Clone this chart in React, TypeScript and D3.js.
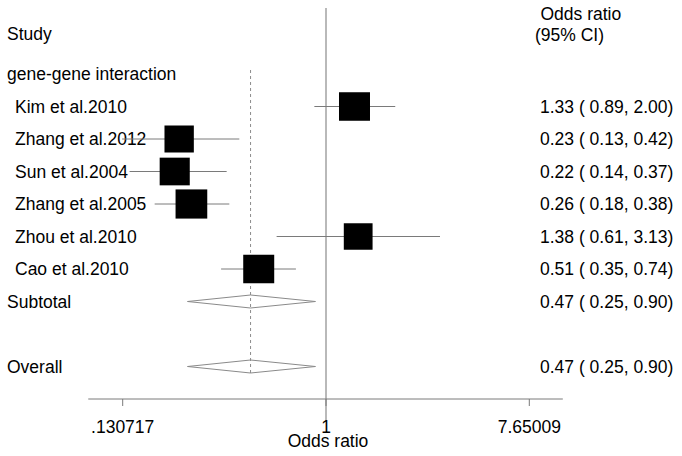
import React from "react";
import * as d3 from "d3";

const studies = ["Kim et al.2010", "Zhang et al.2012", "Sun et al.2004", "Zhang et al.2005", "Zhou et al.2010", "Cao et al.2010"];
const orValues = [1.33, 0.23, 0.22, 0.26, 1.38, 0.51];
const lowerCI = [0.89, 0.13, 0.14, 0.18, 0.61, 0.35];
const upperCI = [2.0, 0.42, 0.37, 0.38, 3.13, 0.74];
const weights = [17.4, 15.6, 16.4, 18.2, 15.0, 17.4];
const ciLabels = ["1.33 ( 0.89, 2.00)", "0.23 ( 0.13, 0.42)", "0.22 ( 0.14, 0.37)", "0.26 ( 0.18, 0.38)", "1.38 ( 0.61, 3.13)", "0.51 ( 0.35, 0.74)"];

const groupLabel = "gene-gene interaction";
const summaryLabels = ["Subtotal", "Overall"];
const summaryOR = [0.47, 0.47];
const summaryLower = [0.25, 0.25];
const summaryUpper = [0.9, 0.9];
const summaryText = ["0.47 ( 0.25, 0.90)", "0.47 ( 0.25, 0.90)"];
const summaryRows = [7, 9];

const tickValues = [0.130717, 1, 7.65009];
const tickLabels = [".130717", "1", "7.65009"];
const axisExtent = [0.0926, 10.7];

const FONT = "'Liberation Sans', Arial, Helvetica, sans-serif";
const FS = 17.5;

export default function App() {
  const W = 682, H = 456;
  const x = d3.scaleLog().domain([0.130717, 7.65009]).range([122.7, 529.3]);
  const y = d3.scaleLinear().domain([0, 9]).range([74, 366.5]);
  const size = d3.scaleSqrt().domain([0, 18.2]).range([0, 31.7]);
  const axisY = 399;
  const overall = summaryOR[1];

  return (
    <svg width={W} height={H} style={{ position: "absolute", left: 0, top: 0, background: "#fff" }} fontFamily={FONT} fontSize={FS}>
      <rect x={0} y={0} width={W} height={H} fill="#fff" />
      {/* headers */}
      <text x={7} y={y(-1.23)} dy="0.35em" fill="#000">Study</text>
      <text x={540.5} y={14} dy="0.35em" fill="#000">Odds ratio</text>
      <text x={535} y={35} dy="0.35em" fill="#000">(95% CI)</text>
      <text x={7} y={y(0)} dy="0.35em" fill="#000">{groupLabel}</text>

      {/* reference line at 1 */}
      <line x1={x(1)} x2={x(1)} y1={8} y2={421} stroke="#a8a8a8" strokeWidth={1.6} />
      {/* overall dashed line */}
      <line x1={x(overall)} x2={x(overall)} y1={70} y2={373} stroke="#8c8c8c" strokeWidth={1} strokeDasharray="3 3" />

      {studies.map((s, i) => {
        const cy = y(i + 1);
        const w = size(weights[i]);
        const h = w * 0.92;
        return (
          <g key={s}>
            <text x={15} y={cy} dy="0.35em" fill="#000">{s}</text>
            <line x1={x(lowerCI[i])} x2={x(upperCI[i])} y1={cy} y2={cy} stroke="#7a7a7a" strokeWidth={1} />
            <rect x={x(orValues[i]) - w / 2} y={cy - h / 2} width={w} height={h} fill="#000" />
            <text x={540} y={cy} dy="0.35em" fill="#000">{ciLabels[i]}</text>
          </g>
        );
      })}

      {summaryLabels.map((s, i) => {
        const cy = y(summaryRows[i]);
        const pts = [
          [x(summaryLower[i]), cy],
          [x(summaryOR[i]), cy - 6.5],
          [x(summaryUpper[i]), cy],
          [x(summaryOR[i]), cy + 6.5],
        ];
        return (
          <g key={s}>
            <text x={7} y={cy} dy="0.35em" fill="#000">{s}</text>
            <polygon points={pts.map((p) => p.join(",")).join(" ")} fill="none" stroke="#8a8a8a" strokeWidth={1} />
            <text x={540} y={cy} dy="0.35em" fill="#000">{summaryText[i]}</text>
          </g>
        );
      })}

      {/* axis */}
      <line x1={x(axisExtent[0])} x2={x(axisExtent[1])} y1={axisY} y2={axisY} stroke="#7a7a7a" strokeWidth={1} />
      {tickValues.map((t, i) => (
        <g key={t}>
          <line x1={x(t)} x2={x(t)} y1={axisY} y2={axisY + 7} stroke="#7a7a7a" strokeWidth={1} />
          <text x={x(t)} y={427} dy="0.35em" textAnchor="middle" fill="#000">{tickLabels[i]}</text>
        </g>
      ))}
      <text x={x(1) + 2} y={441} dy="0.35em" textAnchor="middle" fill="#000">Odds ratio</text>
    </svg>
  );
}
